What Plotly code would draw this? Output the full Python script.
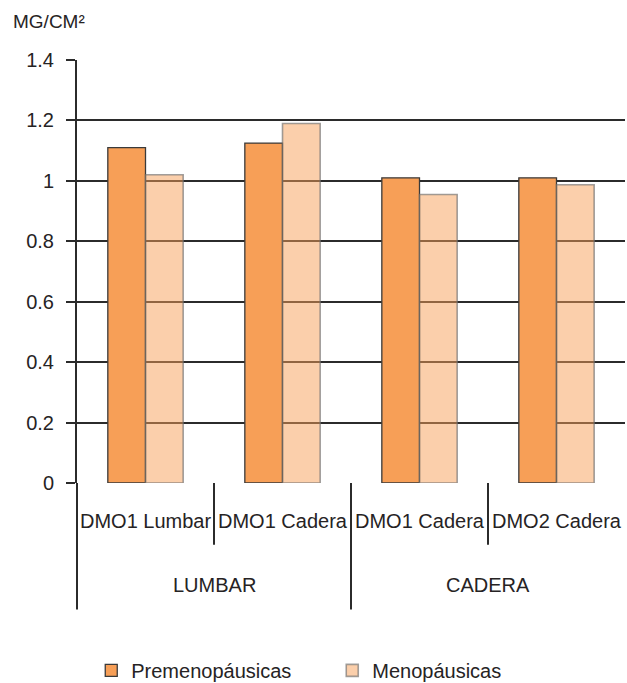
import plotly.graph_objects as go

# ---- data ----
groups = ["LUMBAR", "CADERA"]
group_sizes = [2, 2]
sub_labels = ["DMO1 Lumbar", "DMO1 Cadera", "DMO1 Cadera", "DMO2 Cadera"]
premenopausicas = [1.11, 1.125, 1.01, 1.01]
menopausicas = [1.02, 1.19, 0.955, 0.987]
y_ticks = [0, 0.2, 0.4, 0.6, 0.8, 1.0, 1.2, 1.4]
y_tick_labels = ["0", "0.2", "0.4", "0.6", "0.8", "1", "1.2", "1.4"]
y_title = "MG/CM²"

FONT = "Liberation Sans, Arial, sans-serif"
TXT = "#262324"
LINE = "#2b2b2b"

x_pos = list(range(len(sub_labels)))
n = len(sub_labels)

fig = go.Figure()
fig.add_trace(go.Bar(
    x=x_pos, y=premenopausicas, name="Premenopáusicas",
    marker=dict(color="#F79F57", line=dict(color="#3a3a3a", width=1.3)),
))
fig.add_trace(go.Bar(
    x=x_pos, y=menopausicas, name="Menopáusicas",
    marker=dict(color="rgba(247,159,87,0.5)", line=dict(color="rgba(110,110,110,0.65)", width=1.6)),
))

annotations = []
shapes = []

# sub-category labels
for i, lab in enumerate(sub_labels):
    annotations.append(dict(x=i, y=-0.091, xref="x", yref="paper", text=lab,
                            showarrow=False, xanchor="center", yanchor="middle",
                            font=dict(size=20, color=TXT, family=FONT)))

# group labels and dividers
start = 0
for g, size in zip(groups, group_sizes):
    center = start + (size - 1) / 2
    annotations.append(dict(x=center, y=-0.240, xref="x", yref="paper", text=g,
                            showarrow=False, xanchor="center", yanchor="middle",
                            font=dict(size=20, color=TXT, family=FONT)))
    shapes.append(dict(type="line", xref="paper", yref="paper",
                       x0=start / n, x1=start / n, y0=0, y1=-0.299,
                       line=dict(color=LINE, width=2)))
    for k in range(1, size):
        xp = (start + k) / n
        shapes.append(dict(type="line", xref="paper", yref="paper",
                           x0=xp, x1=xp, y0=0, y1=-0.146,
                           line=dict(color=LINE, width=2)))
    start += size

annotations.append(dict(x=-0.121, y=1.09, xref="paper", yref="paper", text=y_title,
                        showarrow=False, xanchor="left", yanchor="middle",
                        font=dict(size=19, color=TXT, family=FONT)))

fig.update_layout(
    width=627, height=683,
    margin=dict(l=77, r=2, t=60, b=200, autoexpand=False),
    paper_bgcolor="white", plot_bgcolor="white",
    barmode="group", bargap=0.45, bargroupgap=0,
    font=dict(family=FONT, color=TXT),
    xaxis=dict(range=[-0.5, n - 0.5], showticklabels=False, ticks="",
               showgrid=False, zeroline=False, showline=False, automargin=False),
    yaxis=dict(range=[0, 1.4], tickvals=y_ticks, ticktext=y_tick_labels,
               ticks="outside", ticklen=9, tickwidth=2, tickcolor=LINE,
               showgrid=True, gridcolor=LINE, gridwidth=2,
               showline=True, linecolor=LINE, linewidth=2, zeroline=False,
               tickfont=dict(size=20, color=TXT, family=FONT),
               ticklabelstandoff=8, automargin=False),
    legend=dict(orientation="h", x=0.026, y=-0.443, xanchor="left", yanchor="middle",
                font=dict(size=20, color=TXT, family=FONT),
                entrywidth=196, entrywidthmode="pixels", traceorder="normal"),
    annotations=annotations,
    shapes=shapes,
)

fig.write_html(
    "out.html",
    config={"displayModeBar": False},
    post_script="document.body.style.margin='0';document.body.style.overflow='hidden';",
)
